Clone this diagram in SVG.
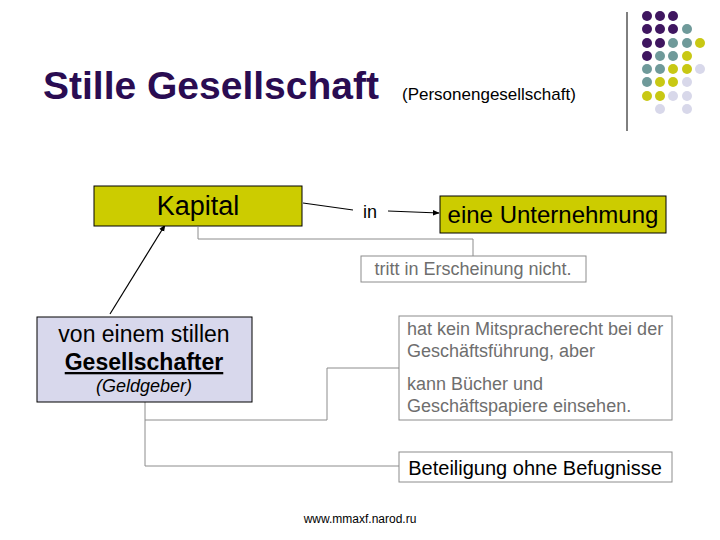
<svg xmlns="http://www.w3.org/2000/svg" width="720" height="540" viewBox="0 0 720 540">
<defs>
<style>
text{font-family:"Liberation Sans",Arial,sans-serif}
.box{stroke:#000;stroke-width:1}
.yel{fill:#cccc00}
.gbox{fill:#fff;stroke:#8c8c8c;stroke-width:1}
.gl{fill:none;stroke:#8c8c8c;stroke-width:1}
.bl{fill:none;stroke:#000;stroke-width:1.2}
.gt{fill:#6e6e6e;font-size:18px}
.P{fill:#3f1660}.T{fill:#6f9a9a}.Y{fill:#c8c814}.L{fill:#d8d8ea}
</style>
<marker id="ah" viewBox="0 0 10 10" refX="9" refY="5" markerWidth="7" markerHeight="7" orient="auto" markerUnits="userSpaceOnUse">
<path d="M0,1 L10,5 L0,9 z" fill="#000"/>
</marker>
</defs>
<rect width="720" height="540" fill="#fff"/>
<g id="decor">
<line x1="627" y1="12" x2="627" y2="131" stroke="#000" stroke-width="1"/>
<g>
<circle class="P" cx="647" cy="16" r="5"/><circle class="P" cx="660" cy="16" r="5"/><circle class="P" cx="673" cy="16" r="5"/>
<circle class="P" cx="647" cy="29" r="5"/><circle class="P" cx="660" cy="29" r="5"/><circle class="P" cx="673" cy="29" r="5"/><circle class="T" cx="687" cy="29" r="5"/>
<circle class="P" cx="647" cy="43" r="5"/><circle class="P" cx="660" cy="43" r="5"/><circle class="T" cx="673" cy="43" r="5"/><circle class="T" cx="687" cy="43" r="5"/><circle class="Y" cx="700" cy="43" r="5"/>
<circle class="P" cx="647" cy="56" r="5"/><circle class="T" cx="660" cy="56" r="5"/><circle class="T" cx="673" cy="56" r="5"/><circle class="Y" cx="687" cy="56" r="5"/>
<circle class="T" cx="647" cy="69" r="5"/><circle class="T" cx="660" cy="69" r="5"/><circle class="Y" cx="673" cy="69" r="5"/><circle class="Y" cx="687" cy="69" r="5"/><circle class="L" cx="700" cy="69" r="5"/>
<circle class="T" cx="647" cy="82" r="5"/><circle class="Y" cx="660" cy="82" r="5"/><circle class="Y" cx="673" cy="82" r="5"/><circle class="L" cx="687" cy="82" r="5"/>
<circle class="Y" cx="647" cy="96" r="5"/><circle class="Y" cx="660" cy="96" r="5"/><circle class="L" cx="673" cy="96" r="5"/><circle class="L" cx="687" cy="96" r="5"/>
<circle class="L" cx="660" cy="109" r="5"/><circle class="L" cx="687" cy="109" r="5"/>
</g>
</g>
<g id="title">
<text x="43" y="99" font-size="39" font-weight="bold" fill="#2a0c52">Stille Gesellschaft</text>
<text x="402" y="100" font-size="17" fill="#000">(Personengesellschaft)</text>
</g>
<g id="connectors">
<polyline class="gl" points="198,227 198,239 473,239 473,256"/>
<polyline class="gl" points="145,402 145,466 399,466"/>
<polyline class="gl" points="145,420 327,420 327,368 399,368"/>
<line class="bl" x1="303" y1="203" x2="353" y2="210"/>
<line class="bl" x1="388" y1="211" x2="439" y2="213" marker-end="url(#ah)"/>
<line class="bl" x1="110" y1="314" x2="165" y2="225" marker-end="url(#ah)"/>
</g>
<g id="kapital">
<rect class="box yel" x="94" y="186" width="208" height="40"/>
<text x="198" y="215" font-size="27" text-anchor="middle" fill="#000">Kapital</text>
</g>
<g id="in">
<text x="363" y="218" font-size="18" fill="#000">in</text>
</g>
<g id="unternehmung">
<rect class="box yel" x="440" y="196" width="226" height="37"/>
<text x="553" y="223" font-size="24" text-anchor="middle" fill="#000">eine Unternehmung</text>
</g>
<g id="tritt">
<rect class="gbox" x="361" y="256" width="225" height="26"/>
<text class="gt" x="473" y="275" text-anchor="middle">tritt in Erscheinung nicht.</text>
</g>
<g id="stiller">
<rect class="box" x="37" y="317" width="215" height="85" fill="#d8d8ec"/>
<text x="144" y="342" font-size="23" text-anchor="middle" fill="#000">von einem stillen</text>
<text x="144" y="370" font-size="23" font-weight="bold" text-anchor="middle" text-decoration="underline" fill="#000">Gesellschafter</text>
<text x="144" y="392" font-size="18" font-style="italic" text-anchor="middle" fill="#000">(Geldgeber)</text>
</g>
<g id="rechte">
<rect class="gbox" x="399" y="316" width="273" height="104"/>
<text class="gt" x="407" y="335">hat kein Mitspracherecht bei der</text>
<text class="gt" x="407" y="357">Geschäftsführung, aber</text>
<text class="gt" x="407" y="390">kann Bücher und</text>
<text class="gt" x="407" y="412">Geschäftspapiere einsehen.</text>
</g>
<g id="beteiligung">
<rect class="gbox" x="399" y="452" width="273" height="30"/>
<text x="535" y="475" font-size="20" text-anchor="middle" fill="#000">Beteiligung ohne Befugnisse</text>
</g>
<g id="footer">
<text x="360" y="523" font-size="12" text-anchor="middle" fill="#000">www.mmaxf.narod.ru</text>
</g>
</svg>
